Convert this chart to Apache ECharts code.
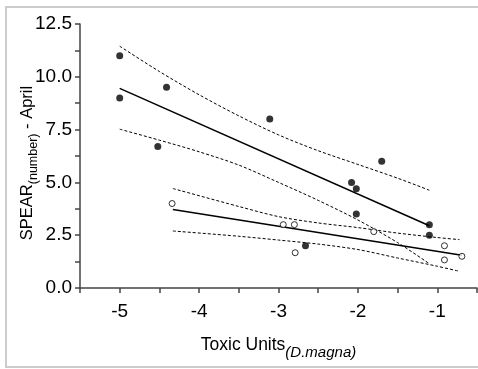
<!DOCTYPE html>
<html><head><meta charset="utf-8">
<script src="https://cdn.jsdelivr.net/npm/echarts@6/dist/echarts.min.js"></script>
<style>html,body{margin:0;padding:0;background:#fff}#c{width:478px;height:369px}</style>
</head><body><div id="c"></div>
<script>
// Filled circles (closed symbols)
var filledX = [-5, -5, -4.41, -4.52, -3.11, -1.70, -2.08, -2.02, -2.02, -1.10, -1.10, -2.66];
var filledY = [11.0, 9.0, 9.5, 6.7, 8.0, 6.0, 5.0, 4.7, 3.5, 3.0, 2.5, 2.0];
// Open circles
var openX = [-4.34, -2.94, -2.80, -2.79, -1.80, -0.91, -0.91, -0.69];
var openY = [4.0, 3.0, 3.0, 1.67, 2.67, 2.0, 1.33, 1.5];
// Regression lines (endpoints)
var fitFilledX = [-5, -1.1];
var fitFilledY = [9.45, 2.95];
var fitOpenX = [-4.33, -0.69];
var fitOpenY = [3.72, 1.55];
// Confidence bands
var ciFilledX = [-5, -4.5, -4, -3.5, -3, -2.5, -2, -1.5, -1.1];
var ciFilledUp = [11.45, 10.25, 9.15, 8.15, 7.25, 6.5, 5.85, 5.2, 4.63];
var ciFilledLo = [7.52, 7.0, 6.45, 5.82, 5.0, 4.15, 3.22, 2.15, 1.15];
var ciOpenX = [-4.33, -3.5, -3, -2.5, -2, -1.5, -1, -0.72];
var ciOpenUp = [4.71, 3.86, 3.38, 3.08, 2.86, 2.6, 2.39, 2.29];
var ciOpenLo = [2.70, 2.45, 2.27, 2.08, 1.82, 1.42, 1.03, 0.79];
// Tick labels
var xTicks = [-5, -4, -3, -2, -1];
var yTicks = [0, 2.5, 5, 7.5, 10, 12.5];

function pairs(xs, ys) { return xs.map(function (x, i) { return [x, ys[i]]; }); }
var FONT = "'Liberation Sans', Arial, sans-serif";
var chart = echarts.init(document.getElementById('c'));
var dashed = { color: '#000', width: 1, type: [3, 2] };
function lineSeries(data, style, smooth) {
  return { type: 'line', data: data, showSymbol: false, symbol: 'none', smooth: smooth ? 0.3 : false,
    lineStyle: style, silent: true, z: 2 };
}
chart.setOption({
  animation: false,
  graphic: [{ type: 'rect', shape: { x: 6, y: 7, width: 480, height: 360 },
    style: { fill: 'none', stroke: '#cccccc', lineWidth: 2 }, z: -1 }],
  grid: { left: 80, top: 24, width: 397, height: 264, containLabel: false, outerBoundsMode: 'none' },
  xAxis: {
    type: 'value', min: -5.5, max: -0.5, interval: 0.5,
    axisLine: { lineStyle: { color: '#444', width: 1.5 } },
    axisTick: { length: 5, lineStyle: { color: '#444', width: 1.5 } },
    splitLine: { show: false },
    axisLabel: { fontFamily: FONT, fontSize: 19, color: '#000', margin: 14,
      formatter: function (v) { return xTicks.indexOf(v) >= 0 ? String(v) : ''; } },
    name: '{a|Toxic Units}{b|(D.magna)}', nameLocation: 'middle', nameGap: 42,
    nameTextStyle: { rich: {
      a: { fontFamily: FONT, fontSize: 17.5, color: '#000', lineHeight: 24, verticalAlign: 'bottom' },
      b: { fontFamily: FONT, fontSize: 15, fontStyle: 'italic', color: '#000', lineHeight: 24, verticalAlign: 'bottom', padding: [0, 0, -6, 0] } } }
  },
  yAxis: {
    type: 'value', min: 0, max: 12.5, interval: 1.25,
    axisLine: { show: true, lineStyle: { color: '#444', width: 1.5 } },
    axisTick: { show: true, length: 5, lineStyle: { color: '#444', width: 1.5 } },
    splitLine: { show: false },
    axisLabel: { fontFamily: FONT, fontSize: 19, color: '#000', margin: 8,
      formatter: function (v) { return yTicks.indexOf(v) >= 0 ? v.toFixed(1) : ''; } },
    name: '{a|SPEAR}{b|(number)}{a| - April}', nameLocation: 'middle', nameGap: 44, nameRotate: 90,
    nameMoveOverlap: false,
    nameTextStyle: { padding: [0, 14, 0, 0], rich: {
      a: { fontFamily: FONT, fontSize: 16.5, color: '#000', lineHeight: 24, verticalAlign: 'bottom' },
      b: { fontFamily: FONT, fontSize: 12.5, color: '#000', lineHeight: 24, verticalAlign: 'bottom', padding: [0, 0, -4, 0] } } }
  },
  series: [
    lineSeries(pairs(ciFilledX, ciFilledUp), dashed, true),
    lineSeries(pairs(ciFilledX, ciFilledLo), dashed, true),
    lineSeries(pairs(ciOpenX, ciOpenUp), dashed, true),
    lineSeries(pairs(ciOpenX, ciOpenLo), dashed, true),
    lineSeries(pairs(fitFilledX, fitFilledY), { color: '#000', width: 1.5 }, false),
    lineSeries(pairs(fitOpenX, fitOpenY), { color: '#000', width: 1.5 }, false),
    { type: 'scatter', data: pairs(filledX, filledY), symbol: 'circle', symbolSize: 7,
      itemStyle: { color: '#000' }, z: 3 },
    { type: 'scatter', data: pairs(openX, openY), symbol: 'circle', symbolSize: 6,
      itemStyle: { color: '#fff', borderColor: '#000', borderWidth: 1 }, z: 3 }
  ]
});
</script></body></html>
